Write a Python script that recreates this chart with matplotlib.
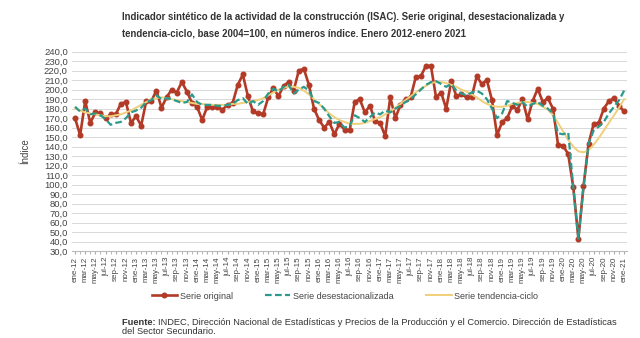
import numpy as np
import matplotlib.pyplot as plt
from matplotlib import font_manager

# meses ene-2012 .. ene-2021
meses = ['ene', 'feb', 'mar', 'abr', 'may', 'jun', 'jul', 'ago', 'sep', 'oct', 'nov', 'dic']
etiquetas = [f'{m}-{a:02d}' for a in range(12, 21) for m in meses] + ['ene-21']

original = [170, 152, 188, 165, 176, 175, 170, 174, 174, 185, 187, 165,
            172, 162, 188, 188, 199, 181, 192, 200, 197, 208, 198, 186,
            182, 168, 182, 182, 182, 179, 184, 186, 205, 216, 193, 177,
            175, 174, 192, 202, 193, 204, 208, 199, 220, 222, 205, 180,
            168, 160, 166, 153, 164, 158, 157, 187, 190, 176, 183, 167,
            165, 151, 192, 170, 184, 190, 192, 213, 214, 225, 225, 192,
            197, 180, 209, 193, 195, 192, 192, 214, 206, 210, 189, 152,
            166, 170, 183, 179, 190, 169, 188, 201, 187, 191, 180, 142,
            141, 132, 97, 43, 98, 143, 164, 165, 180, 188, 191, 183, 177]

desest = [182, 177, 180, 174, 175, 173, 169, 163, 165, 166, 170, 176,
          178, 181, 187, 189, 194, 190, 191, 190, 188, 186, 187, 195,
          187, 184, 184, 184, 183, 183, 184, 185, 189, 191, 185, 188,
          184, 188, 196, 201, 198, 203, 205, 196, 200, 203, 199, 188,
          186, 180, 172, 165, 166, 160, 162, 173, 170, 166, 171, 176,
          174, 178, 176, 180, 183, 187, 190, 195, 200, 205, 208, 209,
          206, 203, 206, 199, 196, 194, 197, 199, 196, 190, 180, 170,
          175, 188, 186, 184, 187, 182, 185, 187, 183, 180, 175, 154,
          153, 155, 97, 43, 97, 143, 157, 161, 166, 175, 182, 189, 199]

tendencia = [180, 178, 176, 175, 174, 173, 172, 172, 173, 174, 176, 178,
             181, 184, 187, 190, 191, 192, 191, 190, 189, 188, 187, 186,
             185, 185, 184, 184, 184, 184, 184, 185, 185, 186, 187, 188,
             189, 191, 194, 197, 200, 202, 203, 203, 202, 199, 195, 190,
             185, 180, 175, 171, 168, 166, 164, 164, 164, 165, 167, 169,
             171, 174, 177, 181, 185, 189, 193, 197, 201, 204, 207, 208,
             208, 207, 205, 203, 200, 198, 195, 192, 188, 185, 183, 182,
             182, 183, 185, 186, 187, 187, 186, 185, 182, 179, 173, 165,
             156, 147, 140, 135, 134, 136, 142, 149, 157, 165, 173, 181, 190]

rojo = '#b23a26'
verde = '#2a9a8c'
amarillo = '#f0cf7a'

plt.rcParams['font.family'] = ['Liberation Sans', 'DejaVu Sans']
nombres = {f.name for f in font_manager.fontManager.ttflist}
fuente_titulo = 'Liberation Sans Narrow' if 'Liberation Sans Narrow' in nombres else 'Liberation Sans'
tam_titulo = 8.3 if fuente_titulo == 'Liberation Sans Narrow' else 6.9

x = np.arange(len(original))
fig = plt.figure(figsize=(6.4, 3.38), dpi=100)
ax = fig.add_axes([0.1125, 0.2574, 0.8675, 0.5896])

ax.plot(x, original, color=rojo, lw=1.9, marker='o', ms=3.3, zorder=2, label='Serie original')
ax.plot(x, tendencia, color=amarillo, lw=1.4, zorder=3, label='Serie tendencia-ciclo')
ax.plot(x, desest, color=verde, lw=1.6, ls=(0, (3, 1.5)), zorder=4, label='Serie desestacionalizada')

ax.set_ylim(30, 240)
ax.set_xlim(-0.6, len(x) - 0.4)
yt = np.arange(30, 241, 10)
ax.set_yticks(yt)
ax.set_yticklabels([f'{v},0' for v in yt], fontsize=6.8, color='#444444')
ax.set_xticks(x[::2])
ax.set_xticklabels(etiquetas[::2], rotation=90, fontsize=5.8, color='#444444')
ax.set_xticks(x, minor=True)
ax.tick_params(axis='x', which='both', length=2, color='#aaaaaa', pad=2)
ax.tick_params(axis='y', length=0, pad=3)
ax.grid(axis='y', color='#d8d8d8', lw=0.7)
ax.set_axisbelow(True)
for s in ['top', 'right', 'left']:
    ax.spines[s].set_visible(False)
ax.spines['bottom'].set_color('#bbbbbb')
ax.set_ylabel('Índice', fontsize=7, color='#444444', labelpad=10)

h, l = ax.get_legend_handles_labels()
orden = [0, 2, 1]
fig.legend([h[i] for i in orden], [l[i] for i in orden], loc='center', bbox_to_anchor=(0.539, 0.124),
           ncol=3, frameon=False, fontsize=6.5, handlelength=2.8, handletextpad=0.3,
           columnspacing=3.6, labelcolor='#444444')

fig.text(0.19, 0.95, 'Indicador sintético de la actividad de la construcción (ISAC). Serie original, desestacionalizada y',
         fontsize=tam_titulo, fontweight='bold', family=fuente_titulo, color='#333333', va='center')
fig.text(0.19, 0.902, 'tendencia-ciclo, base 2004=100, en números índice. Enero 2012-enero 2021',
         fontsize=tam_titulo, fontweight='bold', family=fuente_titulo, color='#333333', va='center')

t = fig.text(0.19, 0.047, 'Fuente: ', fontsize=6.7, fontweight='bold', color='#333333', va='center')
fig.canvas.draw()
bb = t.get_window_extent().transformed(fig.transFigure.inverted())
fig.text(bb.x1, 0.047, 'INDEC, Dirección Nacional de Estadísticas y Precios de la Producción y el Comercio. Dirección de Estadísticas',
         fontsize=6.7, color='#333333', va='center')
fig.text(0.19, 0.02, 'del Sector Secundario.', fontsize=6.7, color='#333333', va='center')

fig.savefig('out.png', dpi=100)
